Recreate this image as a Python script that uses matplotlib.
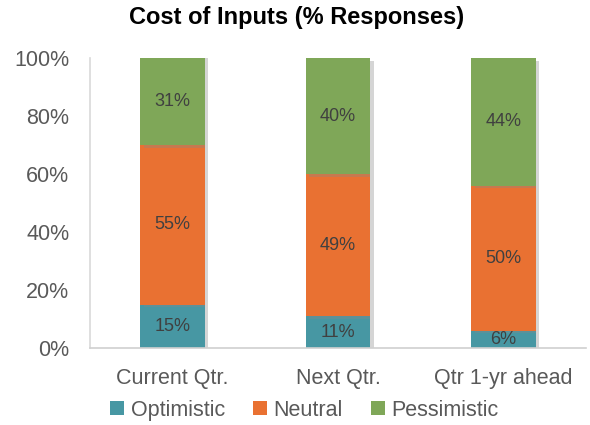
import matplotlib
matplotlib.use("Agg")
import matplotlib.pyplot as plt
import matplotlib.patheffects as pe
from matplotlib.patches import Patch
import numpy as np

categories = ["Current Qtr.", "Next Qtr.", "Qtr 1-yr ahead"]
optimistic = [15, 11, 6]
neutral = [55, 49, 50]
pessimistic = [31, 40, 44]
series_names = ["Optimistic", "Neutral", "Pessimistic"]
colors = ["#4797A3", "#E97132", "#7FA758"]
yticks = [0, 20, 40, 60, 80, 100]

plt.rcParams['font.family'] = ['Liberation Sans', 'DejaVu Sans']

fig = plt.figure(figsize=(5.9, 4.25), dpi=100)
ax = fig.add_axes([0.1525, 0.181, 0.841, 0.6825])

x = np.arange(len(categories))
bottom = np.zeros(len(categories))
shadow = [pe.SimplePatchShadow(offset=(2.5, -2), shadow_rgbFace="#888888", alpha=0.35), pe.Normal()]
for name, vals, c in zip(series_names, [optimistic, neutral, pessimistic], colors):
    vals = np.array(vals, dtype=float)
    bars = ax.bar(x, vals, bottom=bottom, width=0.39, color=c, label=name, zorder=2)
    for b in bars:
        b.set_path_effects(shadow)
    for xi, v, b0 in zip(x, vals, bottom):
        top = min(b0 + v, 100)
        ax.text(xi, (b0 + top) / 2, f"{int(v)}%", ha="center", va="center",
                fontsize=13, color="#404040", zorder=3)
    bottom += vals

ax.set_xlim(-0.5, 2.5)
ax.set_ylim(0, 100)
ax.set_yticks(yticks)
ax.set_yticklabels([f"{t}%" for t in yticks])
ax.set_xticks(x)
ax.set_xticklabels(categories)
ax.tick_params(axis="both", length=0, labelsize=15.5, colors="#595959")
ax.tick_params(axis="y", pad=15)
ax.tick_params(axis="x", pad=14)
for s in ["top", "right"]:
    ax.spines[s].set_visible(False)
ax.spines["left"].set_color("#D9D9D9")
ax.spines["bottom"].set_color("#D0D0D0")
ax.spines["left"].set_linewidth(1.2)
ax.spines["bottom"].set_linewidth(1.2)

fig.text(0.503, 0.958, "Cost of Inputs (% Responses)", ha="center", va="center",
         fontsize=17, fontweight="bold", color="black")

handles = [Patch(facecolor=c, edgecolor="none") for c in colors]
fig.legend(handles=handles, labels=series_names, loc="center", bbox_to_anchor=(0.516, 0.035),
           ncol=3, frameon=False, fontsize=15.5, handlelength=0.65, handleheight=0.65,
           handletextpad=0.3, columnspacing=1.3, labelcolor="#595959", borderpad=0)

fig.savefig("out.png", dpi=100)
